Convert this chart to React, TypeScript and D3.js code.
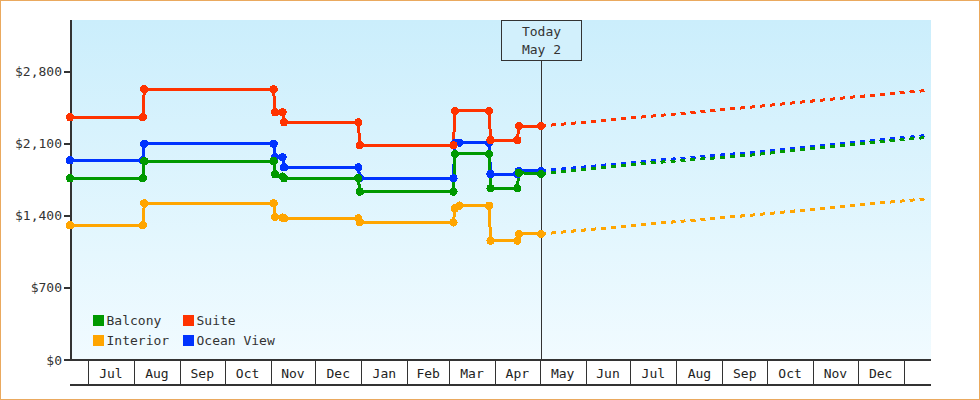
import React from "react";
import * as d3 from "d3";

// ---- data ----
const historyDates = [
  "2017-06-19", "2017-08-07", "2017-08-08", "2017-11-03", "2017-11-04",
  "2017-11-09", "2017-11-10", "2017-12-30", "2017-12-31", "2018-03-04",
  "2018-03-05", "2018-03-08", "2018-03-28", "2018-03-29", "2018-04-16",
  "2018-04-17", "2018-05-02",
];
const balconyHistory = [1764, 1764, 1931, 1931, 1802, 1780, 1764, 1764, 1634, 1634, 2000, null, 2000, 1667, 1667, 1818, 1805];
const suiteHistory = [2356, 2356, 2628, 2628, 2404, 2404, 2307, 2307, 2084, 2084, 2417, null, 2417, 2135, 2135, 2271, 2271];
const interiorHistory = [1307, 1307, 1521, 1521, 1388, 1382, 1375, 1375, 1336, 1336, 1472, 1498, 1498, 1158, 1158, 1223, 1223];
const oceanViewHistory = [1938, 1938, 2098, 2098, 1970, 1967, 1870, 1870, 1764, 1764, 2105, 2109, 2109, 1805, 1805, 1835, 1835];

const forecastDates = ["2018-05-02", "2018-07-14", "2018-09-19", "2018-11-26", "2019-01-15"];
const balconyForecast = [1805, 1912, 1987, 2090, 2158];
const suiteForecast = [2271, 2365, 2453, 2550, 2614];
const interiorForecast = [1223, 1320, 1404, 1498, 1563];
const oceanViewForecast = [1835, 1932, 2012, 2109, 2177];

const seriesNames = ["Balcony", "Suite", "Interior", "Ocean View"];
const seriesColors = ["#009900", "#ff3300", "#ffa500", "#0033ff"];
const yTicks = [0, 700, 1400, 2100, 2800];
const todayDate = "2018-05-02";
const todayLabel = ["Today", "May 2"];
const domainStart = "2017-06-19";
const domainEnd = "2019-01-19";

const parse = d3.timeParse("%Y-%m-%d");

export default function App() {
  const W = 980, H = 400;
  const left = 70, right = 930.5, top = 20, bottom = 360, axisBottom = 385;
  const x = d3.scaleTime().domain([parse(domainStart)!, parse(domainEnd)!]).range([left, right]);
  const y = d3.scaleLinear().domain([0, 3300]).range([bottom, top]);
  const font = "'DejaVu Sans Mono', monospace";

  const hist = [balconyHistory, suiteHistory, interiorHistory, oceanViewHistory];
  const fc = [balconyForecast, suiteForecast, interiorForecast, oceanViewForecast];
  const drawOrder = [3, 2, 1, 0];

  const line = d3
    .line<[Date, number]>()
    .x((d) => x(d[0]))
    .y((d) => y(d[1]));

  const pts = (dates: string[], vals: (number | null)[]) =>
    dates
      .map((d, i) => [parse(d)!, vals[i]] as [Date, number | null])
      .filter((p) => p[1] != null) as [Date, number][];

  const months = d3.timeMonth.range(parse(domainStart)!, parse(domainEnd)!);
  const end = parse(domainEnd)!;
  const fmtMonth = d3.timeFormat("%b");
  const fmtMoney = d3.format("$,");
  const todayX = x(parse(todayDate)!);

  const legendPos = [
    [93, 315],
    [183, 315],
    [93, 335],
    [183, 335],
  ];

  return (
    <svg width={W} height={H} style={{ position: "absolute", left: 0, top: 0 }} fontFamily={font}>
      <defs>
        <linearGradient id="bg" x1="0" y1="0" x2="0" y2="1">
          <stop offset="0" stopColor="#cbeefc" />
          <stop offset="1" stopColor="#f1fbff" />
        </linearGradient>
      </defs>
      <rect x={0.5} y={0.5} width={W - 1} height={H - 1} fill="#fff" stroke="#eaa95e" strokeWidth={1} />
      <rect x={left} y={top} width={931 - left} height={bottom - top} fill="url(#bg)" />

      {/* x axis bands */}
      <line x1={left} x2={931} y1={bottom} y2={bottom} stroke="#333" strokeWidth={1.5} shapeRendering="crispEdges" />
      <line x1={left} x2={931} y1={axisBottom} y2={axisBottom} stroke="#333" strokeWidth={1.5} shapeRendering="crispEdges" />
      {months.map((m, i) => {
        const xm = Math.round(x(m)) + 0.5;
        const next = d3.timeMonth.offset(m, 1);
        return (
          <g key={i}>
            <line x1={xm} x2={xm} y1={bottom} y2={axisBottom} stroke="#333" strokeWidth={1.3} shapeRendering="crispEdges" />
            {next <= end && (
              <text x={(x(m) + x(next)) / 2} y={378} textAnchor="middle" fontSize={13} fill="#222">
                {fmtMonth(m)}
              </text>
            )}
          </g>
        );
      })}

      {/* y axis */}
      <line x1={left + 1} x2={left + 1} y1={top} y2={bottom + 1} stroke="#333" strokeWidth={2} shapeRendering="crispEdges" />
      {yTicks.map((t) => (
        <g key={t}>
          <line x1={64} x2={left} y1={Math.round(y(t))} y2={Math.round(y(t))} stroke="#333" strokeWidth={2} shapeRendering="crispEdges" />
          <text x={62} y={y(t) + 4.5} textAnchor="end" fontSize={13} fill="#333">
            {fmtMoney(t)}
          </text>
        </g>
      ))}

      {/* today marker */}
      <line x1={Math.round(todayX) + 0.5} x2={Math.round(todayX) + 0.5} y1={60} y2={bottom} stroke="#333" strokeWidth={1} shapeRendering="crispEdges" />
      <rect x={501.5} y={20.5} width={80} height={40} fill="#d2f0fc" stroke="#333" strokeWidth={1} shapeRendering="crispEdges" />
      <text x={(501.5 + 581.5) / 2} y={36} textAnchor="middle" fontSize={13} fill="#333">{todayLabel[0]}</text>
      <text x={(501.5 + 581.5) / 2} y={54} textAnchor="middle" fontSize={13} fill="#333">{todayLabel[1]}</text>

      {/* forecast lines */}
      {drawOrder.map((si) => (
        <path
          key={"f" + si}
          d={line(pts(forecastDates, fc[si]))!}
          fill="none"
          stroke={seriesColors[si]}
          strokeWidth={3}
          strokeDasharray="5,5"
          shapeRendering="crispEdges"
        />
      ))}

      {/* history lines */}
      {drawOrder.map((si) => (
        <path
          key={"h" + si}
          d={line(pts(historyDates, hist[si]))!}
          fill="none"
          stroke={seriesColors[si]}
          strokeWidth={3}
          shapeRendering="crispEdges"
        />
      ))}
      {drawOrder.map((si) => (
        <g key={"p" + si} fill={seriesColors[si]}>
          {pts(historyDates, hist[si]).map((p, i) => (
            <circle key={i} cx={x(p[0])} cy={y(p[1])} r={4.2} shapeRendering="crispEdges" />
          ))}
        </g>
      ))}

      {/* legend */}
      {seriesNames.map((n, i) => (
        <g key={n}>
          <rect x={legendPos[i][0]} y={legendPos[i][1]} width={11} height={11} fill={seriesColors[i]} shapeRendering="crispEdges" />
          <text x={legendPos[i][0] + 13.5} y={legendPos[i][1] + 10} fontSize={13} fill="#333">{n}</text>
        </g>
      ))}
    </svg>
  );
}
